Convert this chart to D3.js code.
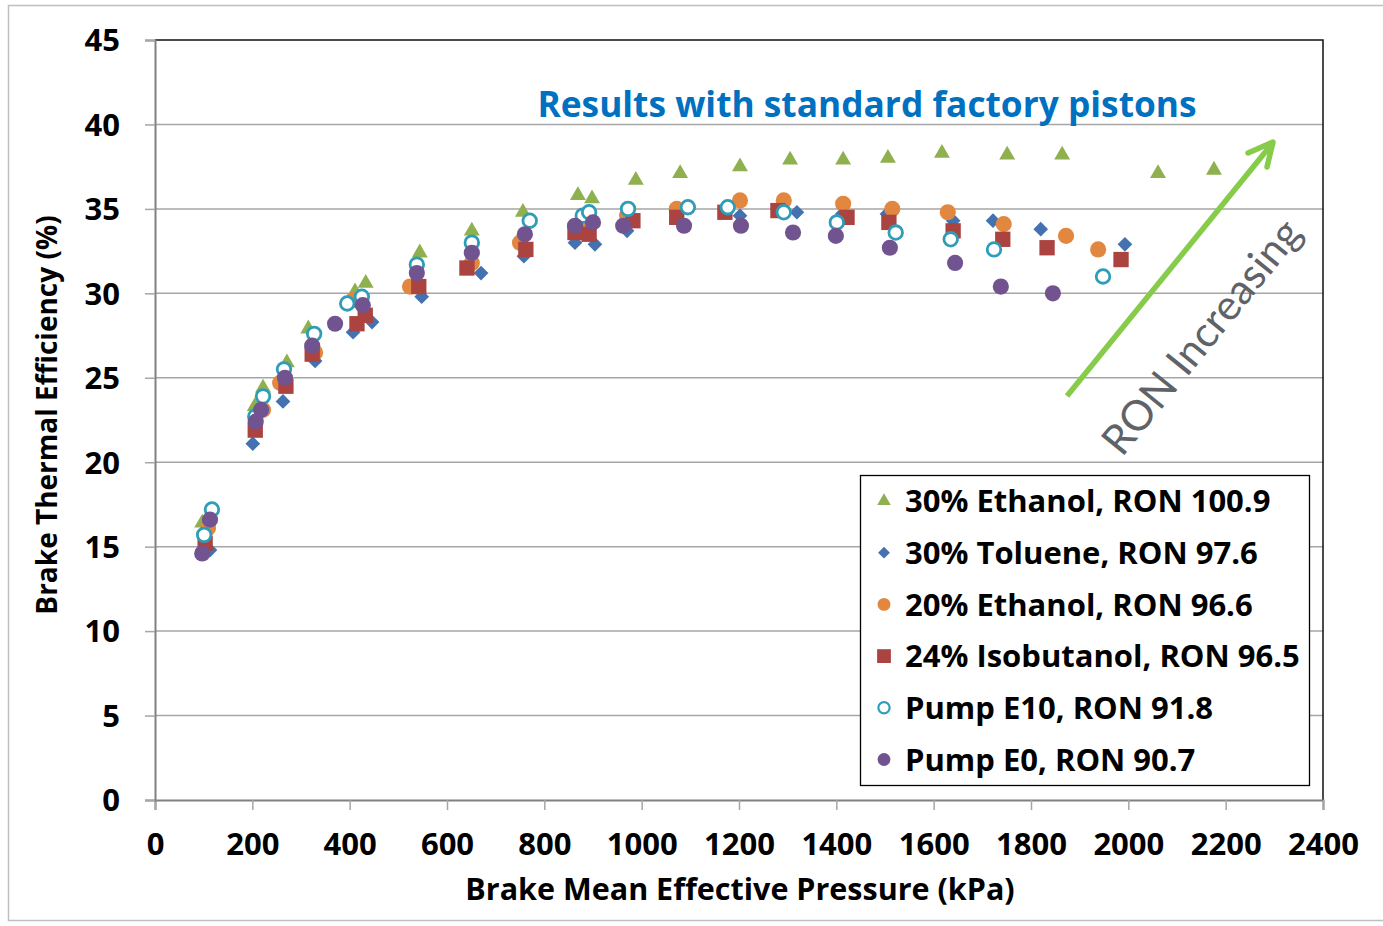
<!DOCTYPE html>
<html>
<head>
<meta charset="utf-8">
<script src="https://cdn.jsdelivr.net/npm/d3@7"></script>
<style>
  body { margin: 0; background: #fff; }
  svg text { font-family: "Open Sans", Lato, sans-serif; }
</style>
</head>
<body>
<div id="chart"></div>
<script>
// Series data: [BMEP kPa, BTE %]
var ethanol30 = [[97,16.4],[205,23.3],[222,24.4],[271,25.9],[315,27.9],[411,30.1],[433,30.6],[544,32.4],[651,33.7],[756,34.8],[869,35.8],[898,35.6],[988,36.7],[1079,37.1],[1202,37.5],[1305,37.9],[1414,37.9],[1506,38.0],[1617,38.3],[1751,38.2],[1864,38.2],[2061,37.1],[2176,37.3]];
var toluene30 = [[113,14.8],[201,21.1],[263,23.6],[329,26.0],[407,27.7],[446,28.3],[548,29.8],[670,31.2],[758,32.2],[863,33.0],[904,32.9],[970,33.7],[1202,34.6],[1319,34.8],[1412,34.7],[1504,34.7],[1640,34.3],[1722,34.3],[1820,33.8],[1993,32.9]];
var ethanol20 = [[109,16.1],[222,23.1],[257,24.7],[329,26.5],[407,29.6],[524,30.4],[651,31.8],[750,33.0],[880,34.0],[970,34.6],[1072,35.0],[1202,35.5],[1292,35.5],[1414,35.3],[1515,35.0],[1629,34.8],[1744,34.1],[1872,33.4],[1938,32.6]];
var isobutanol24 = [[103,15.2],[206,21.9],[269,24.5],[323,26.4],[415,28.2],[432,28.7],[542,30.4],[641,31.5],[762,32.6],[863,33.6],[892,33.5],[982,34.3],[1072,34.5],[1171,34.8],[1280,34.9],[1422,34.5],[1508,34.2],[1640,33.7],[1742,33.2],[1833,32.7],[1985,32.0]];
var pumpE10 = [[101,15.7],[117,17.2],[206,22.7],[222,23.9],[265,25.5],[327,27.6],[395,29.4],[425,29.8],[538,31.7],[651,33.0],[770,34.3],[879,34.6],[892,34.8],[972,35.0],[1095,35.1],[1177,35.1],[1292,34.8],[1401,34.2],[1522,33.6],[1635,33.2],[1724,32.6],[1948,31.0]];
var pumpE0 = [[97,14.6],[113,16.6],[207,22.4],[218,23.1],[267,25.0],[323,26.9],[370,28.2],[427,29.3],[538,31.2],[651,32.4],[760,33.5],[863,34.0],[900,34.2],[962,34.0],[1087,34.0],[1204,34.0],[1311,33.6],[1399,33.4],[1510,32.7],[1644,31.8],[1738,30.4],[1845,30.0]];

var seriesNames = ["30% Ethanol, RON 100.9", "30% Toluene, RON 97.6", "20% Ethanol, RON 96.6", "24% Isobutanol, RON 96.5", "Pump E10, RON 91.8", "Pump E0, RON 90.7"];
var seriesData = [ethanol30, toluene30, ethanol20, isobutanol24, pumpE10, pumpE0];
var xTicks = [0, 200, 400, 600, 800, 1000, 1200, 1400, 1600, 1800, 2000, 2200, 2400];
var yTicks = [0, 5, 10, 15, 20, 25, 30, 35, 40, 45];

// marker styling per series
var styles = [
  { shape: d3.symbolTriangle, size: 110, legendSize: 80, fill: "#8fb04f", stroke: "none", rot: 0 },
  { shape: d3.symbolSquare, size: 108, legendSize: 70, fill: "#4472b0", stroke: "none", rot: 45 },
  { shape: d3.symbolCircle, size: 205, legendSize: 130, fill: "#e28740", stroke: "none", rot: 0 },
  { shape: d3.symbolSquare, size: 235, legendSize: 190, fill: "#ab4340", stroke: "none", rot: 0 },
  { shape: d3.symbolCircle, size: 145, legendSize: 100, fill: "#fff", stroke: "#2f9db8", rot: 0 },
  { shape: d3.symbolCircle, size: 205, legendSize: 130, fill: "#71548f", stroke: "none", rot: 0 }
];

var W = 1383, H = 926;
var PLOT = { left: 155, right: 1323, top: 40, bottom: 800 };

var svg = d3.select("#chart").append("svg")
  .attr("width", W).attr("height", H);

// outer chart area border
svg.append("rect")
  .attr("x", 8.5).attr("y", 5.5).attr("width", 1400).attr("height", 915)
  .attr("fill", "none").attr("stroke", "#bfbfbf").attr("stroke-width", 1.5);

var x = d3.scaleLinear().domain([0, 2400]).range([PLOT.left, PLOT.right]);
var y = d3.scaleLinear().domain([0, 45]).range([PLOT.bottom, PLOT.top]);

// gridlines
svg.append("g").selectAll("line")
  .data(yTicks.filter(function (d) { return d > 0 && d < 45; }))
  .join("line")
  .attr("x1", PLOT.left).attr("x2", PLOT.right)
  .attr("y1", function (d) { return y(d); }).attr("y2", function (d) { return y(d); })
  .attr("stroke", "#a6a6a6").attr("stroke-width", 1.5);

// plot frame (top and right)
svg.append("path")
  .attr("d", "M" + PLOT.left + "," + PLOT.top + "H" + PLOT.right + "V" + PLOT.bottom)
  .attr("fill", "none").attr("stroke", "#111").attr("stroke-width", 1.5);

// axes
var xAxis = svg.append("g")
  .attr("transform", "translate(0," + PLOT.bottom + ")")
  .call(d3.axisBottom(x).tickValues(xTicks).tickFormat(d3.format("d")).tickSize(10).tickPadding(23));
var yAxis = svg.append("g")
  .attr("transform", "translate(" + PLOT.left + ",0)")
  .call(d3.axisLeft(y).tickValues(yTicks).tickSize(10).tickPadding(25));

[xAxis, yAxis].forEach(function (ax) {
  ax.select(".domain").attr("stroke", "#808080").attr("stroke-width", 2);
  ax.selectAll(".tick line").attr("stroke", "#a6a6a6").attr("stroke-width", 1.5);
  ax.selectAll(".tick text")
    .attr("fill", "#000")
    .style("font-family", "'Open Sans', sans-serif")
    .style("font-size", "31px").style("font-weight", "bold");
});
xAxis.selectAll(".tick text").attr("dy", "0.71em");
yAxis.selectAll(".tick text").attr("dy", "0.35em");

// axis titles
svg.append("text")
  .attr("x", 740).attr("y", 900)
  .attr("text-anchor", "middle")
  .style("font-size", "30.5px").style("font-weight", "bold")
  .text("Brake Mean Effective Pressure (kPa)");
svg.append("text")
  .attr("transform", "translate(57," + 415 + ") rotate(-90)")
  .attr("text-anchor", "middle")
  .style("font-size", "28px").style("font-weight", "bold")
  .text("Brake Thermal Efficiency (%)");

// chart title
svg.append("text")
  .attr("x", 867).attr("y", 117)
  .attr("text-anchor", "middle")
  .attr("fill", "#0070c0")
  .style("font-size", "35.3px").style("font-weight", "bold")
  .text("Results with standard factory pistons");

// data markers
function markerPath(st, size) {
  return d3.symbol().type(st.shape).size(size)();
}
seriesData.forEach(function (data, i) {
  var st = styles[i];
  svg.append("g").selectAll("path")
    .data(data)
    .join("path")
    .attr("d", markerPath(st, st.size))
    .attr("transform", function (d) {
      return "translate(" + x(d[0]) + "," + y(d[1]) + ") rotate(" + st.rot + ")";
    })
    .attr("fill", st.fill)
    .attr("stroke", st.stroke)
    .attr("stroke-width", st.stroke === "none" ? 0 : 2.8);
});

// RON increasing arrow
var green = "#86cc4a";
svg.append("line")
  .attr("x1", 1067).attr("y1", 396).attr("x2", 1271).attr("y2", 145)
  .attr("stroke", green).attr("stroke-width", 5.5);
svg.append("path")
  .attr("d", "M1248,153 L1273,142 L1267,167")
  .attr("fill", "none").attr("stroke", green).attr("stroke-width", 5.5)
  .attr("stroke-linecap", "round").attr("stroke-linejoin", "round");
svg.append("text")
  .attr("transform", "translate(1122,458) rotate(-51)")
  .attr("fill", "#5f6368")
  .style("font-family", "Lato, sans-serif")
  .style("font-size", "42px")
  .text("RON Increasing");

// legend
var legend = svg.append("g");
legend.append("rect")
  .attr("x", 860.5).attr("y", 475.5).attr("width", 449).attr("height", 310)
  .attr("fill", "#fff").attr("stroke", "#000").attr("stroke-width", 1.3);
var rows = legend.selectAll("g.row")
  .data(seriesNames)
  .join("g")
  .attr("class", "row")
  .attr("transform", function (d, i) { return "translate(0," + (501 + i * 51.7) + ")"; });
rows.append("path")
  .attr("d", function (d, i) { return markerPath(styles[i], styles[i].legendSize); })
  .attr("transform", function (d, i) { return "translate(884,0) rotate(" + styles[i].rot + ")"; })
  .attr("fill", function (d, i) { return styles[i].fill; })
  .attr("stroke", function (d, i) { return styles[i].stroke; })
  .attr("stroke-width", function (d, i) { return styles[i].stroke === "none" ? 0 : 2.2; });
rows.append("text")
  .attr("x", 905).attr("dy", "0.36em")
  .style("font-size", "31px").style("font-weight", "bold")
  .text(function (d) { return d; });
</script>
</body>
</html>
